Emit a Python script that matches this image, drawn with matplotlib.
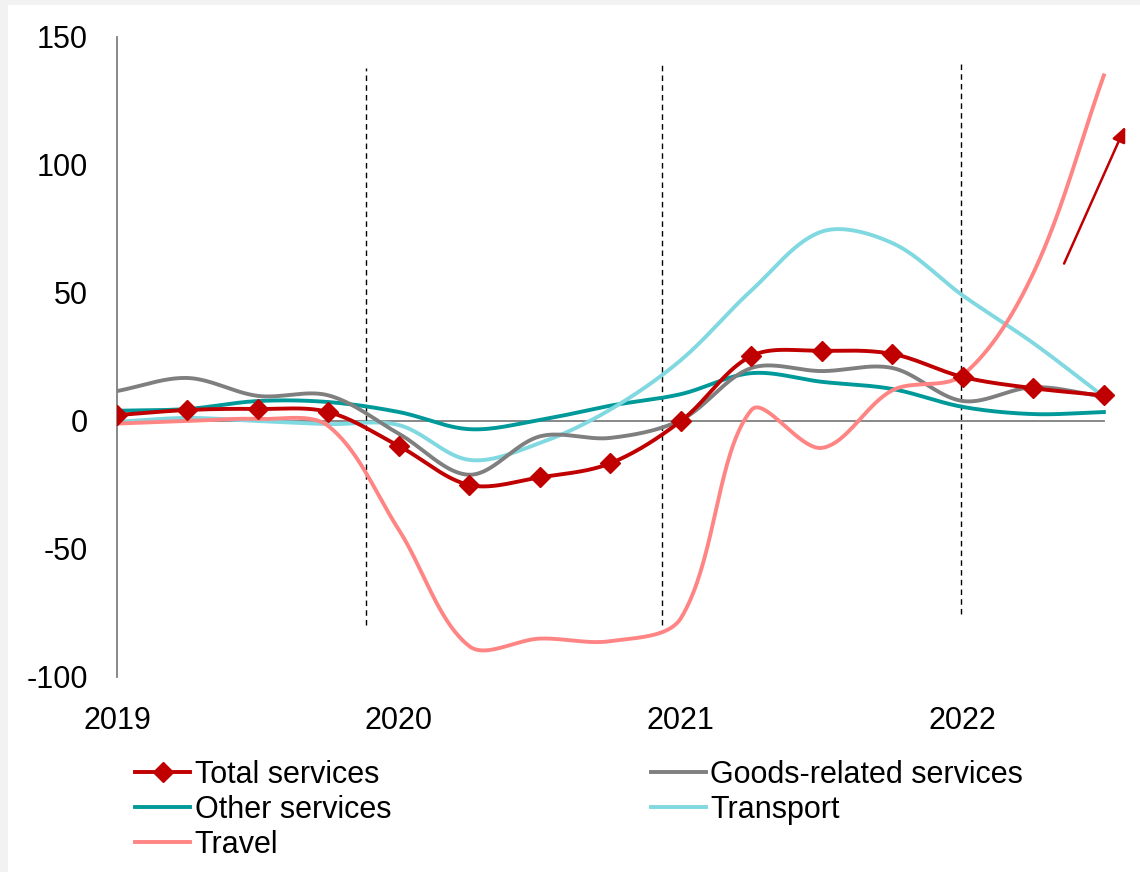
import numpy as np
import matplotlib.pyplot as plt
from matplotlib.patches import Rectangle
from matplotlib.lines import Line2D

plt.rcParams['font.family'] = ['Liberation Sans', 'DejaVu Sans']
plt.rcParams['axes.unicode_minus'] = False

#===========================================================#

### Data (quarterly, 2019Q1 - 2022Q3)

years = ["2019", "2020", "2021", "2022"]

total_services = [2.3, 4.3, 4.7, 3.5, -9.8, -25, -22, -16.5, 0, 25.4, 27.4, 26.2, 17.2, 12.8, 10]
goods_related = [11.7, 16.8, 9.8, 10, -5, -21, -6, -6.6, 0.4, 20.7, 19.5, 20.7, 7.8, 13.2, 9.5]
other_services = [4, 4.7, 7.8, 7.4, 3.5, -3.2, 0.4, 6, 10.5, 18.7, 15.3, 12.5, 5.5, 2.7, 3.5]
transport = [-0.3, 1.2, 0, -1.2, -1.6, -15.2, -8.6, 4.5, 23.8, 51, 74, 69.5, 49, 30.4, 9.5]
travel = [-1, 0, 0.8, -2, -42.6, -88, -85, -86, -77, 4.3, -10.5, 12, 18, 57.8, 135]

#===========================================================#

RED = "#C00000"
GRAY = "#7F7F7F"
TEAL = "#009999"
CYAN = "#80D8E0"
SALMON = "#FF8585"

# pixel size of one x / y unit, used to weight the smoothing like a spreadsheet does
PX_X = 70.5
PX_Y = 2.56


def smooth(y, n=40, tension=1 / 3):
    y = np.asarray(y, dtype=float)
    x = np.arange(len(y), dtype=float)
    pts = np.column_stack([x * PX_X, y * PX_Y])
    ext = np.vstack([pts[0], pts, pts[-1]])
    out = []
    t = np.linspace(0, 1, n)[:, None]
    for i in range(len(pts) - 1):
        p0, p1, p2, p3 = ext[i], ext[i + 1], ext[i + 2], ext[i + 3]
        d01 = np.hypot(*(p1 - p0))
        d12 = np.hypot(*(p2 - p1))
        d23 = np.hypot(*(p3 - p2))
        c1 = p1 + (p2 - p0) * tension * d12 / (d01 + d12)
        c2 = p2 - (p3 - p1) * tension * d12 / (d12 + d23)
        seg = ((1 - t) ** 3) * p1 + 3 * ((1 - t) ** 2) * t * c1 + 3 * (1 - t) * t ** 2 * c2 + t ** 3 * p2
        out.append(seg if i == 0 else seg[1:])
    out = np.vstack(out)
    return out[:, 0] / PX_X, out[:, 1] / PX_Y


fig = plt.figure(figsize=(11.4, 8.72), dpi=100)
fig.patch.set_facecolor("#F2F2F2")
fig.patches.append(Rectangle((8 / 1140, 0), 1, 1 - 5 / 872, transform=fig.transFigure,
                             facecolor="white", edgecolor="none", zorder=-10))

ax = fig.add_axes([117 / 1140, 1 - 677 / 872, (1125 - 117) / 1140, (677 - 37) / 872])
ax.set_facecolor("none")

# zero line
ax.plot([0, 14], [0, 0], color=GRAY, lw=1.3, zorder=1)

# dashed year separators
for xv, y0, y1 in [(3.53, -79.5, 138), (7.73, -79.5, 139.5), (11.97, -75.5, 141)]:
    ax.plot([xv, xv], [y0, y1], color="black", lw=1.0, ls=(0, (4, 3)), zorder=1)

LW = 2.8
sx, sy = smooth(other_services)
ax.plot(sx, sy, color=TEAL, lw=LW, zorder=2)
sx, sy = smooth(transport)
ax.plot(sx, sy, color=CYAN, lw=LW, zorder=2)
sx, sy = smooth(goods_related)
ax.plot(sx, sy, color=GRAY, lw=LW, zorder=3)
sx, sy = smooth(travel)
ax.plot(sx, sy, color=SALMON, lw=LW, zorder=3)
sx, sy = smooth(total_services)
ax.plot(sx, sy, color=RED, lw=LW, zorder=4)
ax.plot(np.arange(len(total_services)), total_services, ls="none", marker="D",
        color=RED, markersize=10, zorder=5)

# arrow
ax.annotate("", xy=(14.32, 116), xytext=(13.42, 60.5),
            arrowprops=dict(arrowstyle="-|>,head_length=0.9,head_width=0.4", color=RED, lw=1.8),
            annotation_clip=False)

ax.set_xlim(0, 14.3)
ax.set_ylim(-100, 150)
ax.set_yticks([-100, -50, 0, 50, 100, 150])
ax.set_xticks([0, 4, 8, 12])
ax.set_xticklabels(years)
ax.tick_params(axis="both", length=0, labelsize=22)
ax.tick_params(axis="y", pad=21)
ax.tick_params(axis="x", pad=21)
for s in ["top", "right", "bottom"]:
    ax.spines[s].set_visible(False)
ax.spines["left"].set_color(GRAY)
ax.spines["left"].set_linewidth(1.3)

handles = [
    Line2D([], [], color=RED, lw=LW, marker="D", markersize=10),
    Line2D([], [], color=TEAL, lw=LW),
    Line2D([], [], color=SALMON, lw=LW),
    Line2D([], [], color=GRAY, lw=LW),
    Line2D([], [], color=CYAN, lw=LW),
]
labels = ["Total services", "Other services", "Travel", "Goods-related services", "Transport"]
fig.legend(handles, labels, ncol=2, loc="upper left", bbox_to_anchor=(135 / 1140, 1 - 760 / 872),
           frameon=False, fontsize=22, handlelength=1.8, handletextpad=0.15,
           labelspacing=0.16, columnspacing=8.5, borderpad=0, borderaxespad=0)

plt.savefig("out.png", dpi=100, facecolor=fig.get_facecolor())
